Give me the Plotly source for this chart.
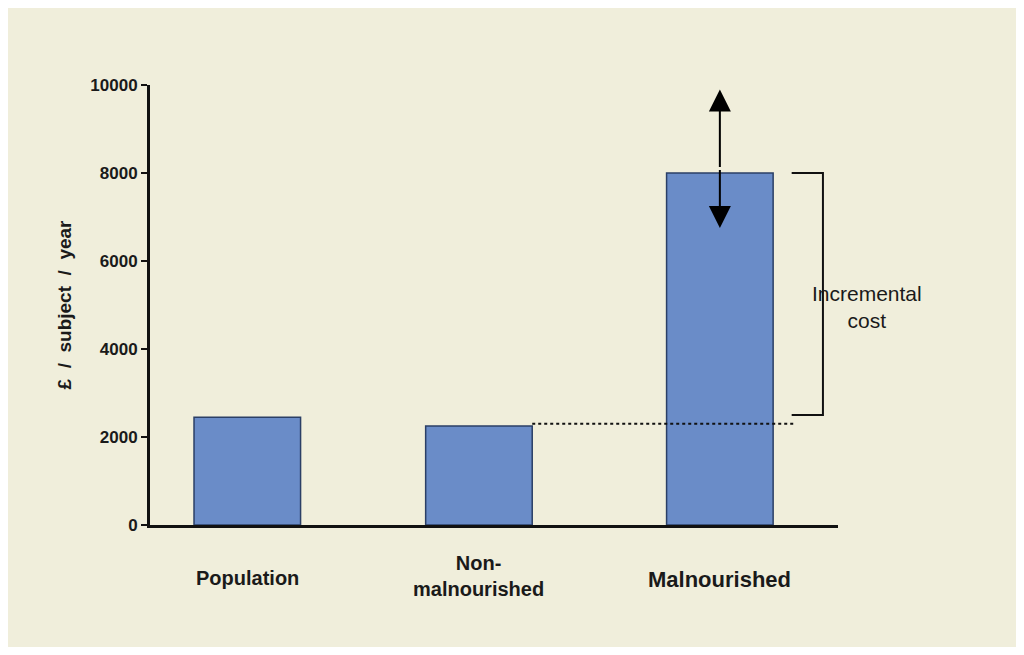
import plotly.graph_objects as go

categories = ["Population", "Non-<br>malnourished", "Malnourished"]
values = [2450, 2250, 8000]
xpos = [0, 1, 2.04]
yticks = [0, 2000, 4000, 6000, 8000, 10000]

bg = "#f0eedb"
fig = go.Figure(go.Bar(x=xpos, y=values, width=0.46,
                       marker=dict(color="#6a8cc8", line=dict(color="#2b3f66", width=1.5))))
fig.update_layout(
    width=1008, height=639, paper_bgcolor=bg, plot_bgcolor=bg,
    margin=dict(l=142, r=178, t=77, b=122), showlegend=False,
    font=dict(family="Liberation Sans, Arial", color="#1a1a1a"),
)
fig.update_xaxes(range=[-0.42, 2.55], showticklabels=False, showgrid=False, zeroline=False,
                 showline=True, linecolor="#111", linewidth=3, ticks="")
fig.update_yaxes(range=[0, 10000], tickvals=yticks, ticktext=[f"<b>{v}</b>" for v in yticks],
                 showgrid=False, zeroline=False, showline=True, linecolor="#111", linewidth=3,
                 ticks="outside", ticklen=6, tickwidth=2, tickcolor="#111",
                 tickfont=dict(size=17),
                 title=dict(text="<b>£  /  subject  /  year</b>", font=dict(size=19), standoff=14))
for x, c in zip(xpos, categories):
    fig.add_annotation(x=x, y=0, xref="x", yref="y", yshift=-40 if "<br>" not in c else -25,
                       text=f"<b>{c}</b>", showarrow=False, yanchor="top",
                       font=dict(size=20 if c != "Malnourished" else 22))
fig.add_shape(type="line", x0=1.23, x1=2.36, y0=2300, y1=2300, line=dict(color="#111", width=2, dash="dot"))
fig.add_shape(type="path", path="M 2.35,8000 L 2.485,8000 L 2.485,2500 L 2.35,2500",
              line=dict(color="#111", width=2))
fig.add_annotation(x=2.04, y=9900, ax=2.04, ay=8100, axref="x", ayref="y", xref="x", yref="y",
                   showarrow=True, arrowhead=2, arrowsize=2.2, arrowwidth=2, arrowcolor="#000", text="")
fig.add_annotation(x=2.04, y=6750, ax=2.04, ay=8100, axref="x", ayref="y", xref="x", yref="y",
                   showarrow=True, arrowhead=2, arrowsize=2.2, arrowwidth=2, arrowcolor="#000", text="")
fig.add_annotation(x=1.125, y=0.495, xref="paper", yref="paper", text="Incremental<br>cost",
                   showarrow=False, font=dict(size=21), align="center")
fig.write_html("out.html")
